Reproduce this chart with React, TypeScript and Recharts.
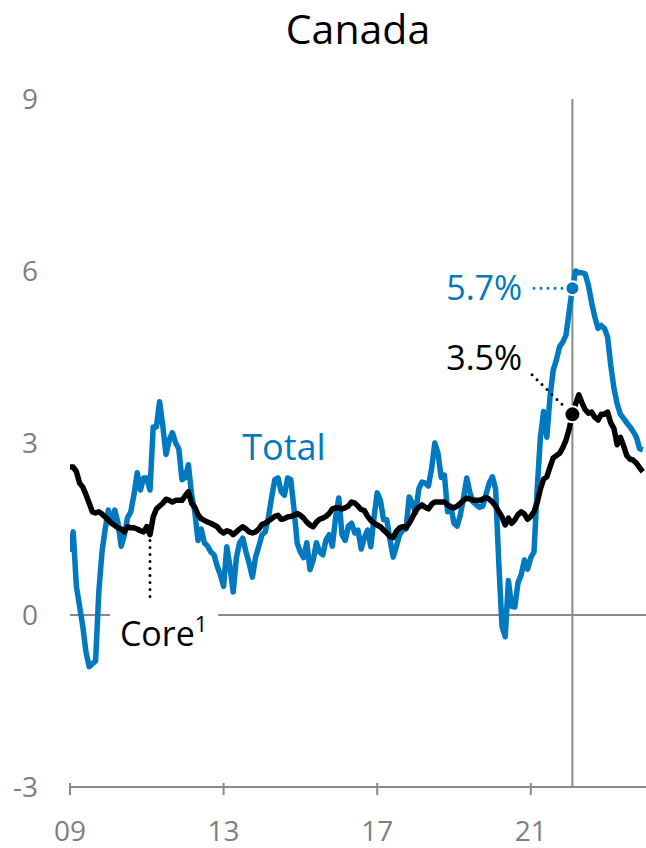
import { LineChart, Line, XAxis, YAxis, ReferenceLine, ReferenceDot } from 'recharts';

// monthly, Jan 2009 .. Dec 2023 (y/y %)
const total = [
  1.1, 1.45, 0.5, 0.15, -0.2, -0.65, -0.9, -0.85, -0.8, 0.4, 1.1, 1.5,
  1.83, 1.6, 1.83, 1.6, 1.2, 1.4, 1.7, 1.8, 2.1, 2.48, 2.18, 2.39,
  2.39, 2.18, 3.28, 3.28, 3.72, 3.3, 2.8, 3.05, 3.18, 3.0, 2.9, 2.36,
  2.4, 2.62, 2.1, 1.8, 1.3, 1.5, 1.26, 1.2, 1.1, 1.05, 0.85, 0.7,
  0.5, 1.19, 0.84, 0.4, 1.0, 1.26, 1.34, 1.1, 0.9, 0.66, 1.01, 1.2,
  1.4, 1.45, 1.7, 2.05, 2.36, 2.39, 2.15, 2.09, 2.39, 2.36, 1.85, 1.25,
  1.1, 1.0, 1.26, 0.79, 0.96, 1.26, 1.1, 1.05, 1.31, 1.4, 1.2, 1.7,
  2.04, 1.4, 1.3, 1.55, 1.6, 1.43, 1.48, 1.15, 1.35, 1.48, 1.19, 1.7,
  2.13, 2.0, 1.66, 1.66, 1.31, 1.01, 1.2, 1.4, 1.48, 1.5, 2.06, 1.95,
  1.78, 2.2, 2.32, 2.3, 2.25, 2.55, 3.0, 2.82, 2.4, 2.44, 1.8, 1.9,
  1.6, 1.55, 1.75, 2.05, 2.39, 2.13, 1.97, 1.92, 1.88, 1.9, 2.1, 2.3,
  2.41, 2.2, 0.9, -0.2, -0.38, 0.6, 0.15, 0.14, 0.56, 0.7, 0.96, 0.8,
  1.0, 1.1, 2.2, 3.1, 3.55, 3.1, 3.8, 4.27, 4.45, 4.68, 4.76, 4.88,
  5.3, 5.7, 6.0, 5.97, 5.97, 5.95, 5.75, 5.45, 5.2, 5.0, 5.05, 5.0,
  4.85, 4.35, 3.95, 3.68, 3.5, 3.43, 3.35, 3.28, 3.2, 3.1, 2.9, 2.88,
];

const core = [
  2.58, 2.58, 2.5, 2.3, 2.23, 2.1, 1.95, 1.8, 1.78, 1.8, 1.76, 1.71,
  1.65, 1.6, 1.56, 1.52, 1.5, 1.45, 1.54, 1.52, 1.52, 1.5, 1.47, 1.45,
  1.54, 1.4, 1.71, 1.85, 1.9, 1.95, 2.02, 2.0, 1.97, 2.0, 2.0, 2.0,
  2.08, 2.15, 1.95, 1.88, 1.75, 1.68, 1.65, 1.62, 1.6, 1.57, 1.54, 1.47,
  1.43, 1.47, 1.45, 1.4, 1.45, 1.5, 1.54, 1.5, 1.45, 1.43, 1.45, 1.5,
  1.58, 1.6, 1.64, 1.68, 1.72, 1.74, 1.67, 1.68, 1.71, 1.72, 1.74, 1.77,
  1.74, 1.69, 1.62, 1.57, 1.54, 1.62, 1.67, 1.69, 1.72, 1.77, 1.85, 1.87,
  1.87, 1.85, 1.87, 1.9, 1.97, 1.95, 1.9, 1.84, 1.82, 1.72, 1.65, 1.6,
  1.57, 1.54, 1.48, 1.43, 1.37, 1.35, 1.46, 1.52, 1.54, 1.52, 1.6, 1.7,
  1.82, 1.88, 1.92, 1.88, 1.85, 1.93, 1.97, 1.97, 1.97, 1.97, 1.92, 1.88,
  1.87, 1.9, 1.95, 2.0, 2.04, 2.02, 2.0, 2.0, 2.0, 2.02, 2.05, 2.02,
  1.97, 1.9, 1.8, 1.71, 1.57, 1.69, 1.6, 1.66, 1.75, 1.8, 1.76, 1.67,
  1.72, 1.8, 1.96, 2.2, 2.37, 2.41, 2.58, 2.74, 2.78, 2.82, 2.92, 3.05,
  3.25, 3.49, 3.68, 3.84, 3.7, 3.58, 3.52, 3.54, 3.45, 3.4, 3.5, 3.5,
  3.54, 3.35, 3.25, 2.97, 3.1, 2.95, 2.78, 2.72, 2.7, 2.65, 2.57, 2.5,
];

const xTicks = [0, 48, 96, 144];
const xTickLabels = ['09', '13', '17', '21'];
const yTicks = [-3, 0, 3, 6, 9];

const markMonth = 157; // Feb 2022
const markTotal = 5.7;
const markCore = 3.5;

const BLUE = '#0079c1';
const GREY = '#8a8a8a';
const FONT = "'Open Sans', sans-serif";

const data = total.map((v, i) => ({ m: i, total: v, core: core[i] }));

function XTick({ x, y, index }: any) {
  return (
    <g>
      <line x1={x} x2={x} y1={y} y2={y - 12} stroke={GREY} strokeWidth={2} />
      <text x={x} y={y + 46} textAnchor="middle" fill="#7f7f7f" fontSize={28} fontFamily={FONT}>
        {xTickLabels[index]}
      </text>
    </g>
  );
}

function YTick({ y, payload }: any) {
  return (
    <text x={38} y={y} dy="0.36em" textAnchor="end" fill="#7f7f7f" fontSize={28} fontFamily={FONT}>
      {payload.value}
    </text>
  );
}

function label(text: string, color: string, anchor: 'start' | 'end', size: number) {
  return (p: any) => (
    <text x={p.cx} y={p.cy} dy="0.36em" textAnchor={anchor} fill={color} fontSize={size} fontFamily={FONT}>
      {text}
    </text>
  );
}

function coreLabel(p: any) {
  return (
    <text x={p.cx} y={p.cy} dy="0.36em" textAnchor="start" fill="#000" fontSize={34} fontFamily={FONT}>
      Core<tspan fontSize={22} dy="-14">1</tspan>
    </text>
  );
}

export default function App() {
  return (
    <div style={{ position: 'absolute', left: 0, top: 0, width: 646, height: 848, background: '#fff' }}>
      <div
        style={{
          position: 'absolute', left: 70, top: 8, width: 576, textAlign: 'center',
          fontFamily: FONT, fontSize: 41, lineHeight: '41px', color: '#000',
        }}
      >
        Canada
      </div>
      <LineChart width={646} height={848} data={data} margin={{ top: 99, right: 0, bottom: 0, left: 0 }}>
        <XAxis
          type="number"
          dataKey="m"
          domain={[0, 180]}
          ticks={xTicks}
          tick={<XTick />}
          tickLine={false}
          axisLine={{ stroke: GREY, strokeWidth: 2 }}
          height={61}
          allowDataOverflow
        />
        <YAxis
          domain={[-3, 9]}
          ticks={yTicks}
          tick={<YTick />}
          axisLine={false}
          tickLine={false}
          width={70}
          allowDataOverflow
        />
        <ReferenceLine segment={[{ x: 0, y: 0 }, { x: 12.5, y: 0 }]} stroke={GREY} strokeWidth={2} />
        <ReferenceLine segment={[{ x: 46.3, y: 0 }, { x: 180, y: 0 }]} stroke={GREY} strokeWidth={2} />
        <ReferenceLine x={markMonth} stroke={GREY} strokeWidth={2} />
        <Line type="linear" dataKey="total" stroke={BLUE} strokeWidth={5.5} dot={false} isAnimationActive={false} strokeLinejoin="round" />
        <Line type="linear" dataKey="core" stroke="#000" strokeWidth={5.5} dot={false} isAnimationActive={false} strokeLinejoin="round" />
        <ReferenceLine
          segment={[{ x: 145, y: markTotal }, { x: 154, y: markTotal }]}
          stroke={BLUE} strokeWidth={3} strokeDasharray="0 7" strokeLinecap="round"
        />
        <ReferenceLine
          segment={[{ x: 144.4, y: 4.19 }, { x: 154, y: 3.66 }]}
          stroke="#000" strokeWidth={3} strokeDasharray="0 7" strokeLinecap="round"
        />
        <ReferenceLine
          segment={[{ x: 25, y: 1.3 }, { x: 25, y: 0.21 }]}
          stroke="#000" strokeWidth={3} strokeDasharray="0 7" strokeLinecap="round"
        />
        <ReferenceDot x={markMonth} y={markTotal} r={7} fill={BLUE} stroke="#fff" strokeWidth={2} />
        <ReferenceDot x={markMonth} y={markCore} r={8} fill="#000" stroke="#fff" strokeWidth={2} />
        <ReferenceDot x={141.3} y={markTotal} r={0} shape={label('5.7%', BLUE, 'end', 34)} />
        <ReferenceDot x={141.3} y={4.48} r={0} shape={label('3.5%', '#000', 'end', 34)} />
        <ReferenceDot x={53.8} y={2.93} r={0} shape={label('Total', BLUE, 'start', 36)} />
        <ReferenceDot x={15.6} y={-0.33} r={0} shape={coreLabel} />
      </LineChart>
    </div>
  );
}
